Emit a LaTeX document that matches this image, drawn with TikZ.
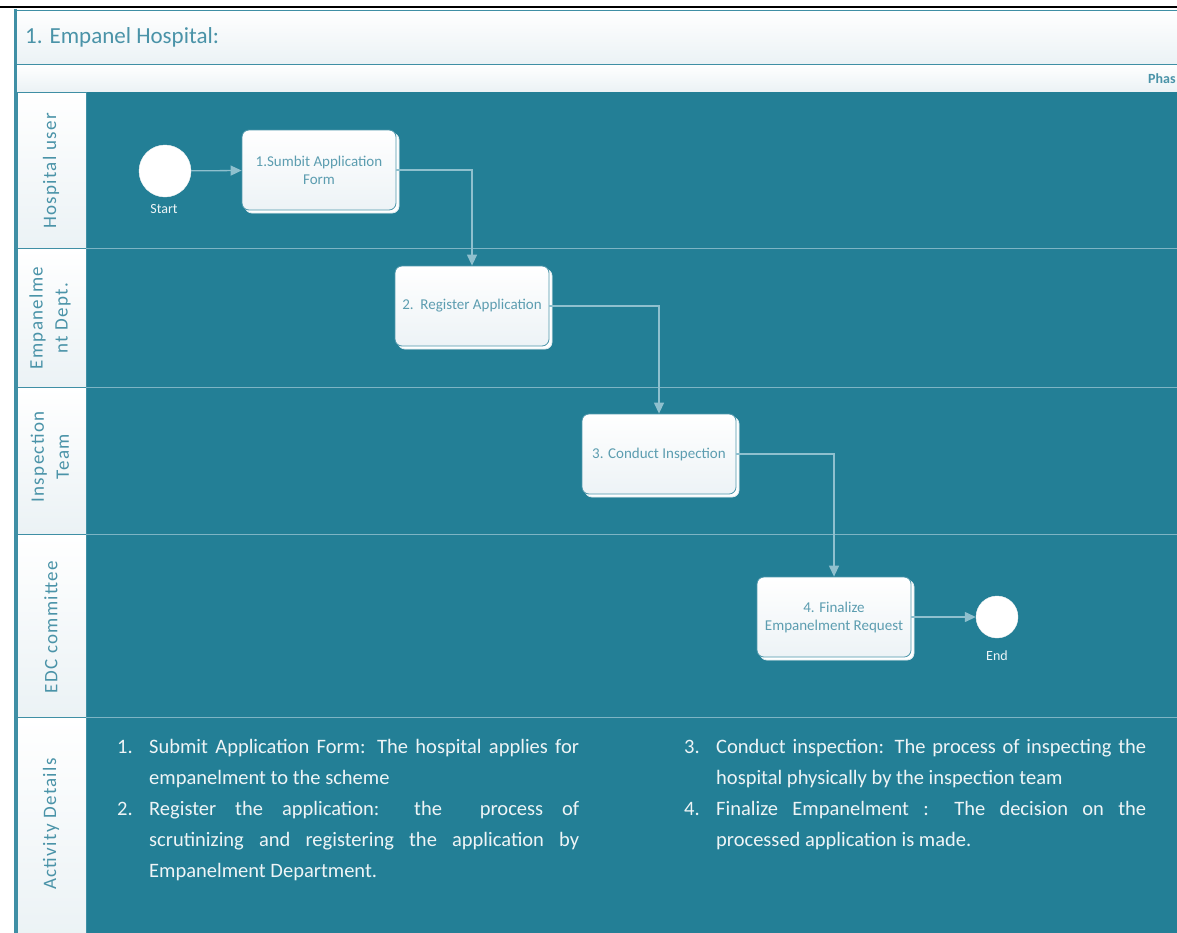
\documentclass[tikz,border=0pt]{standalone}
\usepackage{fontspec}
\setmainfont{Carlito}
\usetikzlibrary{arrows.meta,shadows}

\definecolor{poolbg}{HTML}{237F96}
\definecolor{poolline}{HTML}{3F8FA5}
\definecolor{bandbot}{HTML}{EBF2F5}
\definecolor{headtext}{HTML}{4A93A8}
\definecolor{sepline}{HTML}{7DB4C4}
\definecolor{flowline}{HTML}{8FC0CE}
\definecolor{boxline}{HTML}{4E97AB}
\definecolor{boxbot}{HTML}{EDF3F6}
\definecolor{boxtext}{HTML}{5C9DB0}
\definecolor{detailtext}{HTML}{EEF4F6}

\newcommand{\actitem}[2]{\par\noindent\hangindent=32pt\hangafter=1\makebox[32pt][l]{#1}#2\par}

\tikzset{
  band/.style={top color=white, bottom color=bandbot, draw=poolline, line width=1pt},
  lanehead/.style={top color=white, bottom color=bandbot, draw=poolline, line width=1pt},
  lanesep/.style={draw=sepline, line width=0.8pt},
  lanelabel/.style={rotate=90, align=center, text=headtext, inner sep=0pt,
    font=\fontsize{19}{25}\selectfont\addfontfeatures{LetterSpace=7}},
  titletext/.style={text=headtext, inner sep=0pt, font=\fontsize{23}{27}\selectfont},
  phasetext/.style={text=headtext, inner sep=0pt, font=\fontsize{14}{17}\selectfont\bfseries},
  task/.style={rectangle, rounded corners=7pt, draw=boxline, line width=0.8pt,
    top color=white, bottom color=boxbot, minimum width=154pt, minimum height=80pt,
    align=center, text=boxtext, font=\fontsize{15}{18}\selectfont,
    general shadow={shadow xshift=3pt, shadow yshift=-3pt, fill=white, draw=white!85!poolbg}},
  event/.style={circle, fill=white, draw=white!90!gray, inner sep=0pt},
  evlabel/.style={text=white!92!poolbg, inner sep=0pt, font=\fontsize{14}{16}\selectfont},
  flow/.style={draw=flowline, line width=1.3pt, -{Triangle[length=11pt,width=10pt]}},
  details/.style={anchor=north west, inner sep=0pt, text width=462pt, align=justify,
    text=detailtext, font=\fontsize{20.5}{31}\selectfont}
}

\begin{document}
\begin{tikzpicture}[x=1pt,y=-1pt]
\useasboundingbox (0,0) rectangle (1177,932);
\clip (0,0) rectangle (1177,932);
\fill[white] (0,0) rectangle (1177,932);
\draw[black, line width=2.5pt] (0,7) -- (1177,7);

% pool bands
\path[band] (16,10) rectangle (1190,64);
\path[band] (16,64) rectangle (1190,92);
\fill[poolbg] (86,92) rectangle (1190,940);
\foreach \ytop/\ybot in {92/248, 248/387, 387/534, 534/717, 717/940}
  \path[lanehead] (17,\ytop) rectangle (86,\ybot);
\foreach \yy in {248,387,534,717}
  \draw[lanesep] (86,\yy) -- (1190,\yy);
\draw[poolline, line width=3pt] (15.5,8.5) -- (15.5,940);

\node[titletext, anchor=west] (pooltitle) at (25,37) {1. Empanel Hospital:};
\node[phasetext, anchor=west] (phase) at (1148,79) {Phas};

% lanes
\node[lanelabel] (lanehosp) at (51,171) {Hospital user};
\node[lanelabel] (laneemp) at (50,318) {Empanelme\\nt Dept.};
\node[lanelabel] (laneinsp) at (50,457) {Inspection\\Team};
\node[lanelabel] (laneedc) at (51,627) {EDC committee};
\node[lanelabel] (laneact) at (51,824) {Activity Details};

% process
\node[event, minimum size=52pt] (start) at (165,171) {};
\node[evlabel] (startlbl) at (164,209) {Start};
\node[task] (submit) at (319,170) {1.Sumbit Application\\Form};
\node[task] (register) at (472,306) {2.\ \ Register Application};
\node[task] (inspect) at (659,454) {3. Conduct Inspection};
\node[task] (finalize) at (834,617) {4. Finalize\\Empanelment Request};
\node[event, minimum size=42pt] (end) at (997,617) {};
\node[evlabel] (endlbl) at (997,656) {End};

\draw[flow] (start) -- (submit);
\draw[flow] (submit.east) -| (register.north);
\draw[flow] (register.east) -| (inspect.north);
\draw[flow] (inspect.east) -| (finalize.north);
\draw[flow] (finalize) -- (end);

% activity details
\node[details] (actleft) at (117,722) {%
  \actitem{1.}{Submit Application Form: The hospital applies for empanelment to the scheme}%
  \actitem{2.}{Register the application: the \ process of\linebreak scrutinizing and registering the application by\linebreak Empanelment Department.}};
\node[details] (actright) at (684,722) {%
  \actitem{3.}{Conduct inspection: The process of inspecting the\linebreak hospital physically by the inspection team}%
  \actitem{4.}{Finalize Empanelment : The decision on the\linebreak processed application is made.}};
\end{tikzpicture}
\end{document}
